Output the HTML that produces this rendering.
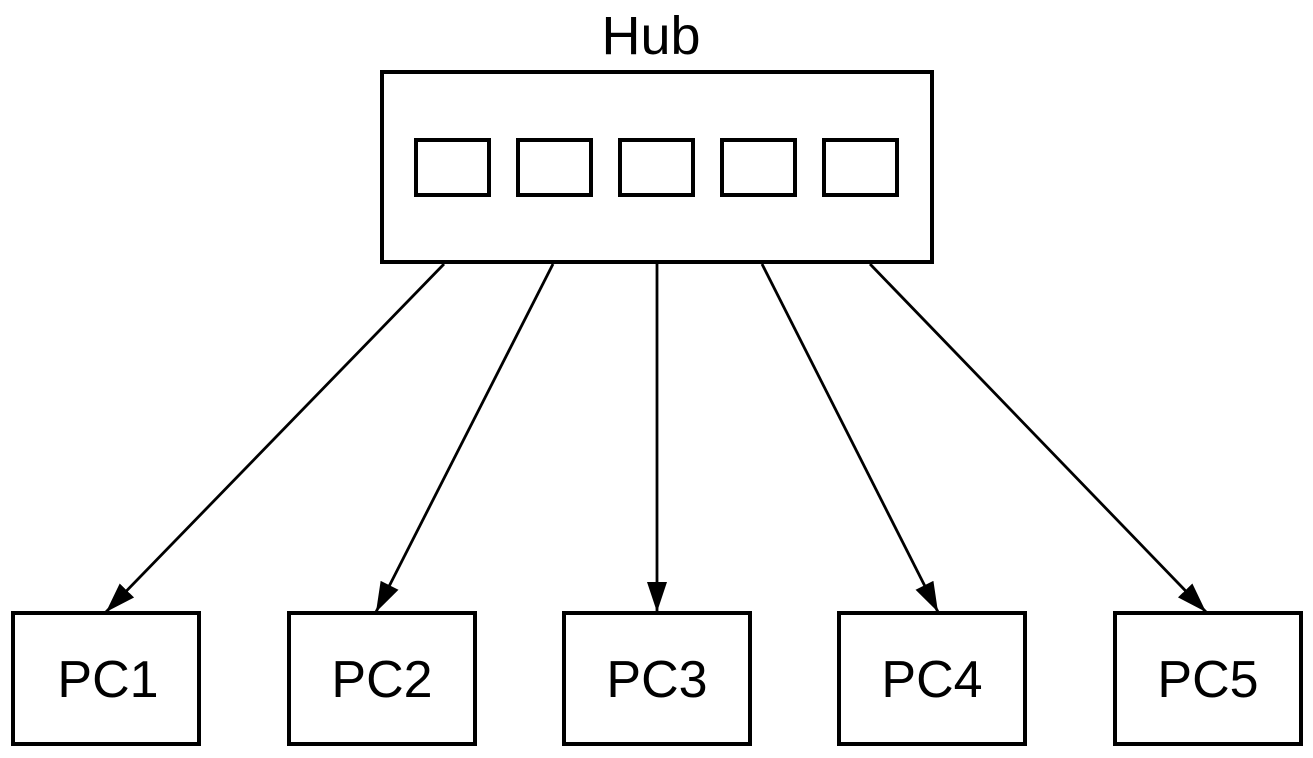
<!DOCTYPE html>
<html><head><meta charset="utf-8"><style>
html,body{margin:0;padding:0;background:#fff;}
svg{display:block;}
text{font-family:"Liberation Sans",sans-serif;fill:#000;}
</style></head><body>
<svg width="1313" height="758" viewBox="0 0 1313 758" xmlns="http://www.w3.org/2000/svg">
<defs>
<marker id="ah" viewBox="0 0 30 30" refX="30" refY="15" markerWidth="30" markerHeight="30" markerUnits="userSpaceOnUse" orient="auto">
<path d="M0,5 L30,15 L0,25 z" fill="#000"/>
</marker>
</defs>
<text x="651" y="54" font-size="54" text-anchor="middle">Hub</text>
<rect x="382" y="72" width="550" height="190" fill="none" stroke="#000" stroke-width="4"/>
<g fill="none" stroke="#000" stroke-width="4">
<rect x="416" y="140" width="73" height="55"/>
<rect x="518" y="140" width="73" height="55"/>
<rect x="620" y="140" width="73" height="55"/>
<rect x="722" y="140" width="73" height="55"/>
<rect x="824" y="140" width="73" height="55"/>
<rect x="13" y="613" width="186" height="131"/>
<rect x="289" y="613" width="186" height="131"/>
<rect x="564" y="613" width="186" height="131"/>
<rect x="839" y="613" width="186" height="131"/>
<rect x="1115" y="613" width="186" height="131"/>
</g>
<g stroke="#000" stroke-width="2.8" marker-end="url(#ah)">
<line x1="444" y1="264" x2="106" y2="612"/>
<line x1="553" y1="264" x2="376" y2="612"/>
<line x1="657" y1="264" x2="657" y2="612"/>
<line x1="762" y1="264" x2="938" y2="612"/>
<line x1="870" y1="264" x2="1206" y2="612"/>
</g>
<g font-size="52" text-anchor="middle">
<text x="108" y="697">PC1</text>
<text x="382" y="697">PC2</text>
<text x="657" y="697">PC3</text>
<text x="932" y="697">PC4</text>
<text x="1208" y="697">PC5</text>
</g>
</svg>
</body></html>
